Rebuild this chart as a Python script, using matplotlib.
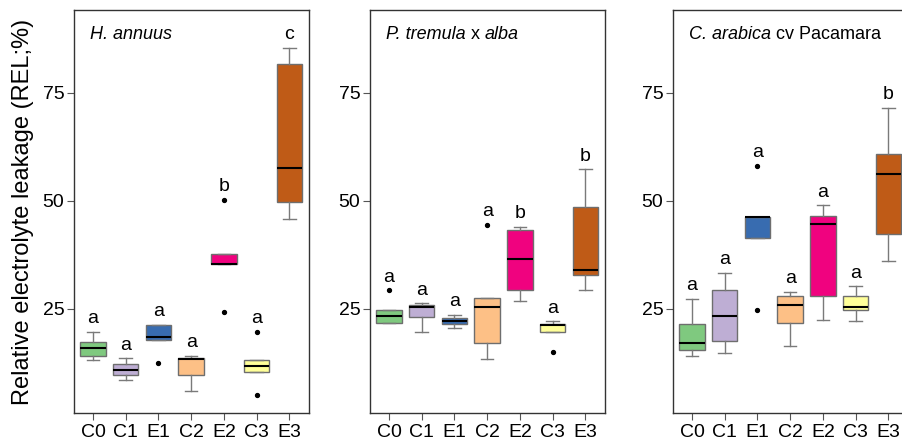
import matplotlib
matplotlib.use('Agg')
import matplotlib.pyplot as plt

plt.rcParams['font.family'] = ['Liberation Sans', 'DejaVu Sans']

groups = ['C0', 'C1', 'E1', 'C2', 'E2', 'C3', 'E3']
colors = ['#7FC97F', '#BEAED4', '#386CB0', '#FDC086', '#F0027F', '#FFFF99', '#BF5B17']

# box statistics (REL, %)
# H. annuus
ha_whislo = [13.1, 8.6, 17.9, 6.0, 35.3, 10.4, 45.8]
ha_q1     = [14.2, 9.6, 17.9, 9.6, 35.3, 10.4, 49.7]
ha_med    = [15.9, 10.9, 18.6, 13.3, 35.3, 11.8, 57.6]
ha_q3     = [17.3, 12.2, 21.3, 13.6, 37.6, 13.1, 81.6]
ha_whishi = [19.7, 13.6, 21.3, 14.1, 37.6, 13.1, 85.5]
ha_fliers = [[], [], [12.4], [], [50.2, 24.2], [19.7, 5.1], []]
ha_letters = ['a', 'a', 'a', 'a', 'b', 'a', 'c']

# P. tremula x alba
pt_whislo = [21.8, 19.6, 20.6, 13.4, 26.8, 19.7, 29.4]
pt_q1     = [21.8, 23.2, 21.5, 17.2, 29.3, 19.7, 32.8]
pt_med    = [23.4, 25.4, 22.3, 25.5, 36.6, 21.3, 33.9]
pt_q3     = [24.8, 26.0, 22.8, 27.6, 43.2, 21.5, 48.6]
pt_whishi = [24.8, 26.3, 23.6, 27.6, 44.0, 22.1, 57.3]
pt_fliers = [[29.3], [], [], [44.4], [], [15.1], []]
pt_letters = ['a', 'a', 'a', 'a', 'b', 'a', 'b']

# C. arabica cv Pacamara
ca_whislo = [14.1, 14.8, 41.3, 16.3, 22.5, 22.3, 36.0]
ca_q1     = [15.5, 17.5, 41.3, 21.7, 27.9, 24.8, 42.4]
ca_med    = [17.0, 23.3, 46.2, 25.9, 44.6, 25.4, 56.2]
ca_q3     = [21.5, 29.4, 46.2, 28.0, 46.5, 28.0, 60.9]
ca_whishi = [27.4, 33.3, 46.2, 29.0, 49.0, 30.2, 71.5]
ca_fliers = [[], [], [58.1, 24.8], [], [], [], []]
ca_letters = ['a', 'a', 'a', 'a', 'a', 'a', 'b']

panels = [
    (['H. annuus'], [True],
     ha_whislo, ha_q1, ha_med, ha_q3, ha_whishi, ha_fliers, ha_letters),
    (['P. tremula', ' x ', 'alba'], [True, False, True],
     pt_whislo, pt_q1, pt_med, pt_q3, pt_whishi, pt_fliers, pt_letters),
    (['C. arabica', ' cv Pacamara'], [True, False],
     ca_whislo, ca_q1, ca_med, ca_q3, ca_whishi, ca_fliers, ca_letters),
]

fig = plt.figure(figsize=(9.03, 4.43), dpi=100)
lefts = [74, 370, 673]
W, H = 903.0, 443.0

for k, (title, ital, wlo, q1, med, q3, whi, fl, letters) in enumerate(panels):
    ax = fig.add_axes([lefts[k] / W, 30 / H, 235 / W, 403 / H])
    stats = []
    for i in range(len(groups)):
        stats.append(dict(whislo=wlo[i], q1=q1[i], med=med[i], q3=q3[i],
                          whishi=whi[i], fliers=fl[i], label=groups[i]))
    bp = ax.bxp(stats, positions=range(1, 8), widths=0.78, patch_artist=True,
                showfliers=True,
                boxprops=dict(edgecolor='#6e6e6e', linewidth=1.0),
                medianprops=dict(color='black', linewidth=1.5),
                whiskerprops=dict(color='#7a7a7a', linewidth=1.0),
                capprops=dict(color='#7a7a7a', linewidth=1.0),
                capwidths=0.38,
                flierprops=dict(marker='o', markerfacecolor='black',
                                markeredgecolor='black', markersize=2.8))
    for patch, c in zip(bp['boxes'], colors):
        patch.set_facecolor(c)

    for i, lab in enumerate(letters):
        top = max([whi[i]] + fl[i])
        ax.text(i + 1, top + 2.0, lab, ha='center', va='baseline', fontsize=14)

    ax.set_xlim(0.42, 7.6)
    ax.set_ylim(0.9, 94.2)
    ax.set_yticks([25, 50, 75])
    ax.tick_params(axis='both', direction='out', length=5, color='#555555',
                   labelsize=14, pad=2)
    ax.tick_params(axis='x', pad=3)
    for sp in ax.spines.values():
        sp.set_color('#333333')
        sp.set_linewidth(1.0)

    # panel title, italic species names
    x = 0.07
    renderer = fig.canvas.get_renderer()
    for part, it in zip(title, ital):
        t = ax.text(x, 0.96, part, transform=ax.transAxes, fontsize=13,
                    style='italic' if it else 'normal', va='top', ha='left')
        bb = t.get_window_extent(renderer=renderer)
        x += bb.width / (ax.get_window_extent(renderer=renderer).width)

    if k == 0:
        ax.set_ylabel('Relative electrolyte leakage (REL;%)', fontsize=17,
                      labelpad=6)

fig.savefig('out.png', dpi=100)
